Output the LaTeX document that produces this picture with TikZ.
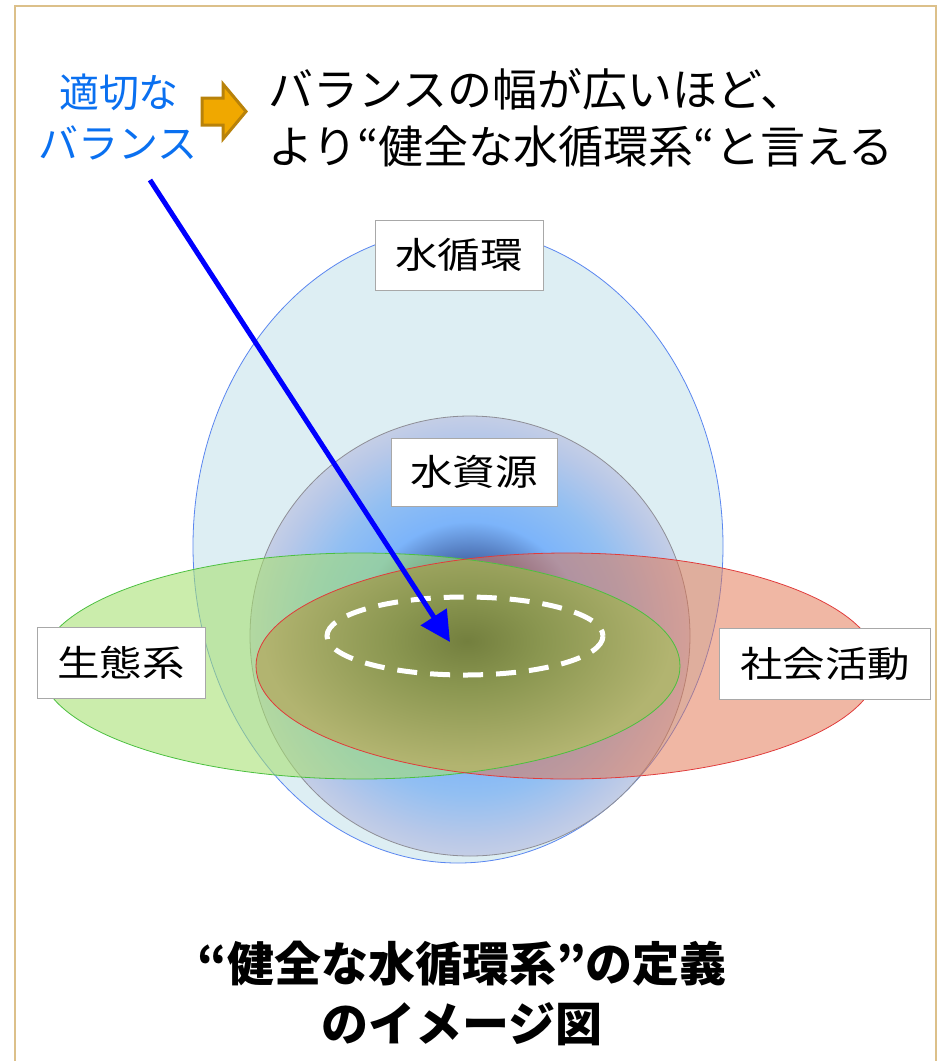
\documentclass[tikz,border=0pt]{standalone}
\usepackage{fontspec}
\setmainfont{Noto Sans CJK JP}
\newfontfamily\jplabel[FakeStretch=1.18]{Noto Sans CJK JP}
\usetikzlibrary{arrows.meta}
\definecolor{framecol}{HTML}{DCC08A}
\definecolor{cyclefill}{HTML}{DDEEF3}
\definecolor{cycleline}{HTML}{5A86F0}
\definecolor{resline}{HTML}{8E8E96}
\definecolor{wr1}{HTML}{34548F}
\definecolor{wr2}{HTML}{4D72B4}
\definecolor{wr3}{HTML}{7CB4FA}
\definecolor{wr4}{HTML}{92BFF2}
\definecolor{wr5}{HTML}{B8C8E8}
\definecolor{wr6}{HTML}{C4CEE6}
\definecolor{ol1}{HTML}{737F3E}
\definecolor{ol2}{HTML}{8A9650}
\definecolor{ol3}{HTML}{B2B470}
\definecolor{ecofill}{HTML}{A6E070}
\definecolor{ecoline}{HTML}{4CC040}
\definecolor{socfill}{HTML}{E27550}
\definecolor{socline}{HTML}{E03C3C}
\definecolor{bluetext}{HTML}{0A70F0}
\definecolor{orfill}{HTML}{F0A800}
\definecolor{orline}{HTML}{B8820A}
\definecolor{boxline}{HTML}{A8A8A8}
\definecolor{pureblue}{RGB}{0,0,255}
\pgfdeclareradialshading{wres}{\pgfpoint{0bp}{0bp}}{color(0bp)=(wr1); color(9bp)=(wr2); color(13bp)=(wr3); color(18bp)=(wr4); color(23bp)=(wr5); color(25bp)=(wr6); color(50bp)=(wr6)}
\pgfdeclareradialshading{olive}{\pgfpoint{0bp}{0bp}}{color(0bp)=(ol1); color(8bp)=(ol2); color(22bp)=(ol3); color(50bp)=(ol3)}
\begin{document}
\begin{tikzpicture}[x=1pt,y=-1pt,
  lbl/.style={draw=boxline, line width=0.8, fill=white, inner sep=0, font=\jplabel\fontsize{36}{40}\selectfont},
  bluetxt/.style={inner sep=0, text=bluetext, font=\fontsize{40}{44}\selectfont},
  toptxt/.style={inner sep=0, text=black, font=\fontsize{45}{49}\selectfont},
  titletxt/.style={inner sep=0, text=black, font=\bfseries\fontsize{47}{51}\selectfont},
  bluearrow/.style={line width=5, draw=pureblue, -{Triangle[length=30pt,width=30pt]}}]
\useasboundingbox (0,0) rectangle (938,1061);
% frame
\draw[framecol, line width=1.5] (15,1061) -- (15,6) -- (936,6) -- (936,1061);
% water cycle ellipse
\fill[cyclefill] (458,546) ellipse [x radius=265, y radius=317];
\draw[cycleline, line width=0.8] (458,546) ellipse [x radius=265, y radius=317];
% water resource circle
\shade[shading=wres] (470,636) circle [radius=220];
\draw[resline, line width=0.8] (470,636) circle [radius=220];
% ecosystem and social
\fill[ecofill, fill opacity=0.58] (360,666) ellipse [x radius=320, y radius=113];
\fill[socfill, fill opacity=0.52] (567,666) ellipse [x radius=311, y radius=113];
\begin{scope}
  \clip (360,666) ellipse [x radius=320, y radius=113];
  \clip (567,666) ellipse [x radius=311, y radius=113];
  \fill[ol3] (200,500) rectangle (750,800);
  \shade[shading=olive] (467,641) ellipse [x radius=232, y radius=142];
\end{scope}
\draw[ecoline, line width=0.8] (360,666) ellipse [x radius=320, y radius=113];
\draw[socline, line width=0.8] (567,666) ellipse [x radius=311, y radius=113];
% dashed balance ellipse
\draw[white, line width=5, dash pattern=on 20pt off 13pt] (465,636) ellipse [x radius=138, y radius=39];
% labels
\node[lbl, minimum width=168, minimum height=70] (cycle) at (459,255) {水循環};
\node[lbl, minimum width=166, minimum height=68] (res) at (474,472) {水資源};
\node[lbl, minimum width=168, minimum height=71] (eco) at (121,663) {生態系};
\node[lbl, minimum width=211, minimum height=71] (soc) at (825,664) {社会活動};
% top texts
\node[bluetxt, anchor=base] (b1) at (119,107) {適切な};
\node[bluetxt, anchor=base] (b2) at (118,158) {バランス};
\node[toptxt, anchor=base west] (t1) at (268,106) {バランスの幅が広いほど、};
\node[toptxt, anchor=base west] (t2) at (268,163) {より“健全な水循環系“と言える};
% orange block arrow
\filldraw[fill=orfill, draw=orline, line width=3, line join=miter]
  (202,98) -- (223,98) -- (223,84) -- (246,111.5) -- (223,139) -- (223,125) -- (202,125) -- cycle;
% blue arrow
\coordinate (as) at (150,180);
\coordinate (at) at (450,642);
\draw[bluearrow] (as) -- (at);
% title
\node[titletxt, anchor=base] (h1) at (462,981) {“健全な水循環系”の定義};
\node[titletxt, anchor=base] (h2) at (462,1041) {のイメージ図};
\end{tikzpicture}
\end{document}
